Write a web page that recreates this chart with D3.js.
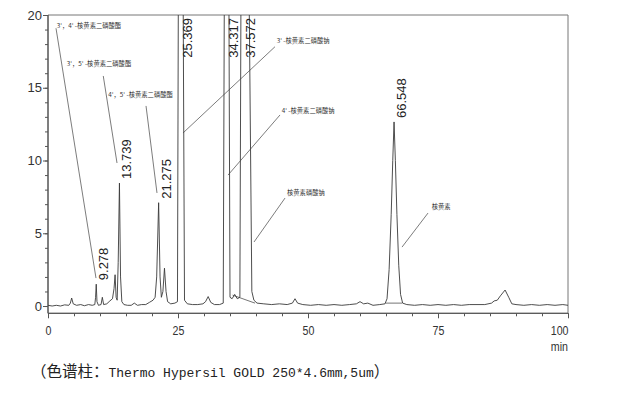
<!DOCTYPE html>
<html><head><meta charset="utf-8">
<script src="https://cdn.jsdelivr.net/npm/d3@7"></script>
<style>
body{margin:0;background:#fff;}
svg{display:block;}
</style></head>
<body>
<svg id="c" width="626" height="396"></svg>
<script>
// ---- data ----
const trace = [
[0,0.05],[0.8,0.0],[1.6,0.05],[2.4,0.0],[3.2,0.08],[4.0,0.05],[4.3,0.2],[4.55,0.55],[4.85,0.15],[5.5,0.05],[6.3,0.1],[7.0,0.02],[7.8,0.1],[8.5,0.05],[9.0,0.1],[9.15,0.6],[9.278,1.5],[9.42,0.3],[9.7,0.05],[10.2,0.1],[10.45,0.6],[10.7,0.1],[11.3,0.15],[11.9,0.35],[12.4,0.5],[12.7,1.2],[12.9,2.15],[13.1,0.6],[13.3,0.4],[13.5,3],[13.739,8.45],[13.95,2],[14.2,0.3],[14.6,0.1],[15.3,0.05],[16.0,0.05],[16.6,0.2],[17.2,0.05],[18.0,0.1],[18.8,0.1],[19.5,0.25],[20.2,0.4],[20.6,0.6],[20.9,2],[21.275,7.1],[21.55,2],[21.8,0.6],[22.1,1],[22.4,2.6],[22.7,1],[23.0,0.3],[23.6,0.15],[24.4,0.2],[24.9,0.3],[25.06,20.5],[25.369,26],[26.0,20.5],[26.25,0.4],[26.8,0.15],[27.8,0.1],[28.8,0.1],[29.8,0.15],[30.3,0.3],[30.8,0.65],[31.3,0.25],[32.0,0.1],[33.0,0.1],[33.7,0.2],[33.9,20.5],[34.317,26],[34.8,20.5],[35.0,0.6],[35.4,0.5],[35.9,0.8],[36.4,0.5],[36.9,0.6],[37.1,20.5],[37.572,26],[38.7,20.5],[39.2,1.0],[39.6,0.4],[40.2,0.2],[41.5,0.15],[43,0.1],[44.5,0.15],[46,0.1],[47.0,0.2],[47.5,0.5],[48.0,0.2],[49,0.1],[50.5,0.05],[52,0.1],[53.5,0.05],[55,0.1],[56.5,0.05],[58,0.1],[59.3,0.15],[60,0.3],[60.7,0.15],[61.5,0.2],[62.5,0.05],[63.8,0.1],[64.8,0.15],[65.2,0.5],[65.6,2.5],[66.0,6.3],[66.3,10],[66.548,12.65],[66.8,10],[67.1,6.3],[67.45,2.8],[67.8,0.8],[68.2,0.2],[69,0.1],[70.5,0.05],[72,0.1],[73.5,0.05],[75,0.1],[76.5,0.05],[78,0.1],[79.5,0.05],[81,0.1],[82.5,0.1],[84,0.1],[85.3,0.2],[85.8,0.35],[86.4,0.4],[87.0,0.7],[87.9,1.1],[88.6,0.6],[89.2,0.15],[90,0.1],[91.5,0.05],[93,0.1],[94.5,0.05],[96,0.1],[97.5,0.05],[99,0.1],[100,0.05]
];
const integrationBaselines = [
  [[35.5,0.75],[39.8,0.2]],
  [[64.9,0.2],[68.1,0.2]]
];
const peakTimes   = [9.278, 13.739, 21.275, 25.369, 34.317, 37.572, 66.548];
const peakHeights = [1.5, 8.45, 7.1, 26, 26, 26, 12.65];

const annTexts = ["3'，4' -核黄素二磷酸酯","3'，5' -核黄素二磷酸酯","4'，5' -核黄素二磷酸酯","3' -核黄素二磷酸钠","4' -核黄素二磷酸钠","核黄素磷酸钠","核黄素"];
const annTextPos  = [[1.67,19.31],[3.6,16.7],[11.6,14.57],[43.98,18.28],[44.94,13.47],[45.96,7.77],[73.79,6.87]];
const annLineFrom = [[1.54,19.09],[10.63,15.81],[18.85,13.75],[43.65,17.82],[44.62,13.13],[45.58,7.42],[73.08,6.39]];
const annLineTo   = [[9.23,1.92],[13.27,9.83],[20.96,7.77],[25.96,11.89],[34.62,9.0],[39.62,4.4],[68.08,4.05]];

const xMajorTicks = [0,25,50,75,100];
const yMajorTicks = [0,5,10,15,20];
const xUnit = "min";
const caption = ["（色谱柱：","Thermo Hypersil GOLD 250*4.6mm,5um","）"];

// ---- drawing ----
const svg = d3.select("#c");
const x = d3.scaleLinear().domain([0,100]).range([48,568]);
const y = d3.scaleLinear().domain([-0.5,20]).range([313.3,15]);
const axisCol = "#555", lineCol = "#3a3a3a", textCol = "#333";

svg.append("defs").append("clipPath").attr("id","clip")
  .append("rect").attr("x",x(0)).attr("y",y(20)).attr("width",x(100)-x(0)).attr("height",y(-0.5)-y(20));

// frame (top and right)
svg.append("line").attr("x1",x(0)).attr("x2",x(100)).attr("y1",y(20)).attr("y2",y(20)).attr("stroke","#777").attr("stroke-width",1);
svg.append("line").attr("x1",x(100)).attr("x2",x(100)).attr("y1",y(20)).attr("y2",y(-0.5)).attr("stroke","#777").attr("stroke-width",1);

// y axis
const yMinor = svg.append("g").attr("transform",`translate(${x(0)},0)`)
  .call(d3.axisLeft(y).tickValues(d3.range(0,21,1)).tickSize(3).tickFormat(""));
const yAx = svg.append("g").attr("transform",`translate(${x(0)},0)`)
  .call(d3.axisLeft(y).tickValues(yMajorTicks).tickSize(5).tickPadding(1).tickFormat(d3.format("d")));
[yMinor,yAx].forEach(g=>{g.select(".domain").attr("stroke",axisCol).attr("d",`M0,${y(-0.5)}V${y(20)}`);g.selectAll("line").attr("stroke",axisCol);});
yAx.selectAll("text").attr("fill",textCol).style("font-family","'Liberation Sans',Arial,sans-serif").style("font-size","13px");

// x axis
const xMinor = svg.append("g").attr("transform",`translate(0,${y(-0.5)})`)
  .call(d3.axisBottom(x).tickValues(d3.range(0,101,5)).tickSize(3).tickFormat(""));
const xAx = svg.append("g").attr("transform",`translate(0,${y(-0.5)})`)
  .call(d3.axisBottom(x).tickValues(xMajorTicks).tickSize(5).tickPadding(7).tickFormat(d3.format("d")));
[xMinor,xAx].forEach(g=>{g.select(".domain").attr("stroke",axisCol).attr("d",`M${x(0)},0H${x(100)}`);g.selectAll("line").attr("stroke",axisCol);});
xAx.selectAll("text").attr("fill",textCol).style("font-family","'Liberation Sans',Arial,sans-serif").style("font-size","13px")
  .attr("transform","scale(0.82,1)")
  .attr("text-anchor",d=>d===100?"end":"middle");
svg.append("text").attr("x",x(100)).attr("y",y(-0.5)+38).attr("text-anchor","end")
  .attr("transform",`translate(${x(100)},0) scale(0.82,1) translate(${-x(100)},0)`)
  .attr("fill",textCol).style("font-family","'Liberation Sans',Arial,sans-serif").style("font-size","13px").text(xUnit);

// trace
const plot = svg.append("g").attr("clip-path","url(#clip)");
plot.append("path").datum(trace)
  .attr("d",d3.line().x(d=>x(d[0])).y(d=>y(d[1])))
  .attr("fill","none").attr("stroke",lineCol).attr("stroke-width",0.9);
plot.selectAll("line.ib").data(integrationBaselines).enter().append("line")
  .attr("x1",d=>x(d[0][0])).attr("y1",d=>y(d[0][1])).attr("x2",d=>x(d[1][0])).attr("y2",d=>y(d[1][1]))
  .attr("stroke",lineCol).attr("stroke-width",0.7);

// peak labels
svg.selectAll("text.pk").data(peakTimes).enter().append("text")
  .attr("class","pk")
  .attr("transform",(d,i)=>{
    const off = peakHeights[i] > 20;
    const py = off ? y(20)+3 : y(peakHeights[i])-4;
    return `translate(${x(d)+12},${py}) rotate(-90)`;
  })
  .attr("text-anchor",(d,i)=>peakHeights[i]>20?"end":"start")
  .attr("fill","#222").style("font-family","'Liberation Sans',Arial,sans-serif").style("font-size","13px")
  .text(d=>d3.format(".3f")(d));

// annotations
svg.selectAll("line.ann").data(annTexts).enter().append("line")
  .attr("x1",(d,i)=>x(annLineFrom[i][0])).attr("y1",(d,i)=>y(annLineFrom[i][1]))
  .attr("x2",(d,i)=>x(annLineTo[i][0])).attr("y2",(d,i)=>y(annLineTo[i][1]))
  .attr("stroke","#444").attr("stroke-width",0.7);
svg.selectAll("text.ann").data(annTexts).enter().append("text")
  .attr("x",(d,i)=>x(annTextPos[i][0])).attr("y",(d,i)=>y(annTextPos[i][1]))
  .attr("dominant-baseline","central")
  .attr("fill","#333").style("font-family","'Noto Sans CJK SC',sans-serif").style("font-size","6.3px")
  .text(d=>d);

// caption
const cap = svg.append("text").attr("x",31).attr("y",377).attr("fill","#222");
cap.append("tspan").style("font-family","'Noto Sans CJK SC',sans-serif").style("font-size","15.5px").text(caption[0]);
cap.append("tspan").style("font-family","'Liberation Mono',monospace").style("font-size","13px").text(caption[1]);
cap.append("tspan").style("font-family","'Noto Sans CJK SC',sans-serif").style("font-size","15.5px").text(caption[2]);
</script>
</body></html>
